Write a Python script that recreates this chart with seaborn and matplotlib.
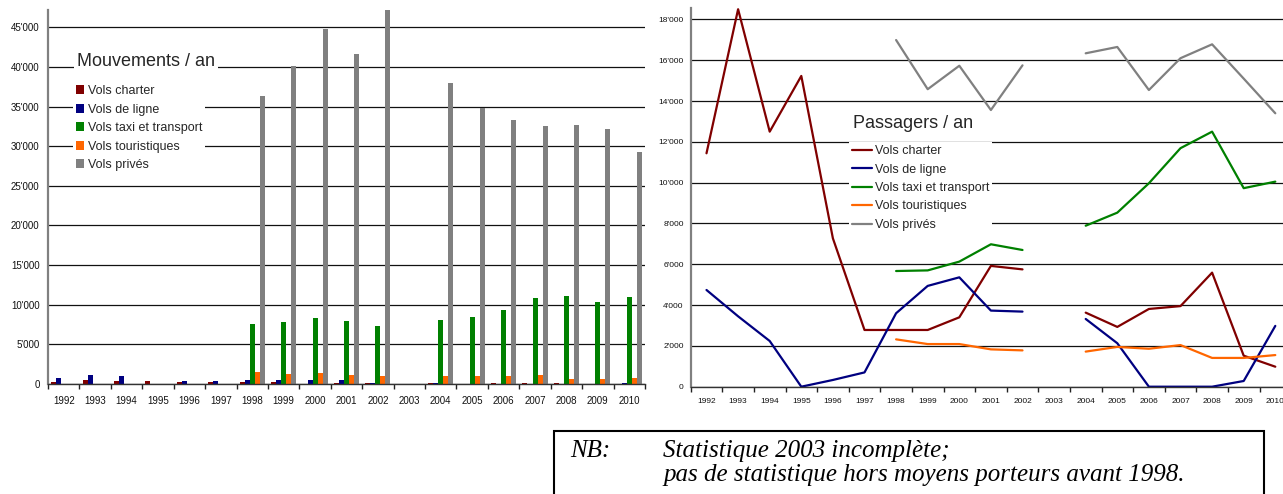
import numpy as np
import pandas as pd
import matplotlib
matplotlib.use("Agg")
import matplotlib.pyplot as plt
from matplotlib.patches import Rectangle
from matplotlib.ticker import FuncFormatter, FixedLocator
import seaborn as sns

sns.set_theme(style="white")
plt.rcParams["font.family"] = ["Liberation Sans", "DejaVu Sans"]

years = list(range(1992, 2011))
year_labels = [str(y) for y in years]
series = ["Vols charter", "Vols de ligne", "Vols taxi et transport",
          "Vols touristiques", "Vols privés"]
colors = ["#800000", "#000080", "#008000", "#ff6600", "#808080"]

nan = np.nan
# Mouvements / an (2003 incomplete; only scheduled/charter before 1998)
mov_charter = [250, 420, 340, 340, 250, 170, 250, 170, 0, 130, 100, nan,
               100, 0, 130, 100, 100, 0, 0]
mov_ligne = [760, 1060, 970, 0, 340, 340, 420, 500, 500, 470, 100, nan,
             70, 0, 0, 0, 0, 0, 130]
mov_taxi = [nan, nan, nan, nan, nan, nan, 7540, 7790, 8300, 7920, 7290, nan,
            8040, 8420, 9310, 10820, 11070, 10320, 10950]
mov_tour = [nan, nan, nan, nan, nan, nan, 1430, 1220, 1300, 1100, 1010, nan,
            925, 1010, 1010, 1100, 630, 630, 750]
mov_prive = [nan, nan, nan, nan, nan, nan, 36300, 40100, 44800, 41700, 47200, nan,
             38000, 34800, 33300, 32500, 32650, 32150, 29250]

# Passagers / an
pax_charter = [11440, 18500, 12500, 15230, 7270, 2780, 2780, 2780, 3400, 5920, 5750, nan,
               3630, 2930, 3810, 3950, 5590, 1520, 980]
pax_ligne = [4740, 3450, 2240, 0, 330, 700, 3600, 4940, 5360, 3730, 3680, nan,
             3320, 2130, 0, 0, 0, 280, 2980]
pax_taxi = [nan, nan, nan, nan, nan, nan, 5670, 5700, 6130, 6980, 6700, nan,
            7890, 8530, 9970, 11690, 12500, 9730, 10050]
pax_tour = [nan, nan, nan, nan, nan, nan, 2320, 2090, 2090, 1830, 1780, nan,
            1720, 1950, 1860, 2040, 1410, 1410, 1550]
pax_prive = [nan, nan, nan, nan, nan, nan, 16990, 14580, 15730, 13560, 15750, nan,
             16340, 16650, 14540, 16100, 16780, 15100, 13400]

mov_values = [mov_charter, mov_ligne, mov_taxi, mov_tour, mov_prive]
pax_values = [pax_charter, pax_ligne, pax_taxi, pax_tour, pax_prive]

# long-form tables
mov_rows = []
for name, vals in zip(series, mov_values):
    for y, v in zip(year_labels, vals):
        mov_rows.append({"year": y, "series": name, "value": v})
df_mov = pd.DataFrame(mov_rows).dropna()

# each unbroken run of years becomes its own line segment
pax_rows = []
seg_id = 0
for name, vals in zip(series, pax_values):
    prev_nan = True
    for i, v in enumerate(vals):
        if np.isnan(v):
            prev_nan = True
            continue
        if prev_nan:
            seg_id += 1
            prev_nan = False
        pax_rows.append({"pos": i, "series": name, "value": v, "segment": seg_id})
df_pax = pd.DataFrame(pax_rows)

W, H = 1283, 494
fig = plt.figure(figsize=(W / 100, H / 100), dpi=100)


def px_axes(x0, y_top, x1, y_bottom):
    return fig.add_axes([x0 / W, (H - y_bottom) / H, (x1 - x0) / W, (y_bottom - y_top) / H])


def fig_xy(x, y):
    return (x / W, 1 - y / H)


def apostrophe(v, _):
    return f"{int(round(v)):,}".replace(",", "'")


def style_axes(ax, ymax, ystep, xfs, yfs, xpad, ypad):
    ax.set_xlim(-0.5, len(years) - 0.5)
    ax.set_ylim(0, ymax)
    ax.set_yticks(np.arange(0, ymax + 1, ystep))
    ax.yaxis.set_major_formatter(FuncFormatter(apostrophe))
    ax.set_xticks(range(len(years)))
    ax.set_xticklabels(year_labels)
    ax.xaxis.set_minor_locator(FixedLocator(np.arange(-0.5, len(years), 1.0)))
    ax.tick_params(axis="x", which="major", length=0, pad=xpad, labelsize=xfs, colors="#111111")
    ax.tick_params(axis="x", which="minor", length=3.5, width=1.0, color="#222222",
                   direction="out", bottom=True)
    ax.tick_params(axis="y", length=0, pad=ypad, labelsize=yfs, colors="#111111")
    ax.grid(axis="y", color="#111111", linewidth=0.9)
    ax.grid(axis="x", visible=False)
    ax.set_axisbelow(True)
    for s in ("top", "right"):
        ax.spines[s].set_visible(False)
    ax.spines["left"].set_color("#808080")
    ax.spines["left"].set_linewidth(1.6)
    ax.spines["bottom"].set_color("#333333")
    ax.spines["bottom"].set_linewidth(1.0)
    ax.set_xlabel("")
    ax.set_ylabel("")


legend_style = dict(fontsize=9, frameon=True, facecolor="white", edgecolor="none",
                    framealpha=1, fancybox=False, handletextpad=0.3,
                    labelspacing=0.52, borderpad=0.2, borderaxespad=0,
                    bbox_transform=fig.transFigure, title=None)
title_box = dict(boxstyle="square,pad=0.15", facecolor="white", edgecolor="none")

# Left: movements per year (grouped bars)
ax1 = px_axes(48, 10, 645, 383.7)
sns.barplot(data=df_mov, x="year", y="value", hue="series", order=year_labels,
            hue_order=series, palette=colors, saturation=1, width=0.8,
            linewidth=0, ax=ax1)
style_axes(ax1, 47200, 5000, 7, 7, 9, 6)
sns.move_legend(ax1, "upper left", bbox_to_anchor=fig_xy(73, 82.5),
                handlelength=0.7, handleheight=0.7, **legend_style)
ax1.text(*fig_xy(77, 62), "Mouvements / an", transform=fig.transFigure,
         fontsize=13, ha="left", va="center", bbox=title_box, zorder=5)

# Right: passengers per year (lines)
ax2 = px_axes(690.7, 8, 690.7 + 19 * 31.6, 386.7)
sns.lineplot(data=df_pax, x="pos", y="value", hue="series", units="segment",
             estimator=None, hue_order=series, palette=colors, linewidth=1.6,
             ax=ax2)
style_axes(ax2, 18560, 2000, 6, 6, 8, 5)
sns.move_legend(ax2, "upper left", bbox_to_anchor=fig_xy(849, 142.5),
                handlelength=1.6, **legend_style)
ax2.text(*fig_xy(853, 123), "Passagers / an", transform=fig.transFigure,
         fontsize=13, ha="left", va="center", bbox=title_box, zorder=5)

# Footnote box
fig.patches.append(Rectangle((554 / W, -0.1), (1264 - 554) / W, 0.1 + (H - 431) / H,
                             transform=fig.transFigure, fill=False,
                             edgecolor="black", linewidth=1.5))
nb_font = dict(family=["Liberation Serif", "DejaVu Serif"], style="italic",
               fontsize=18, color="black", va="baseline", ha="left")
fig.text(*fig_xy(570, 457), "NB:", **nb_font)
fig.text(*fig_xy(663, 457), "Statistique 2003 incomplète;", **nb_font)
fig.text(*fig_xy(663, 481), "pas de statistique hors moyens porteurs avant 1998.", **nb_font)

fig.savefig("out.png", dpi=100)
